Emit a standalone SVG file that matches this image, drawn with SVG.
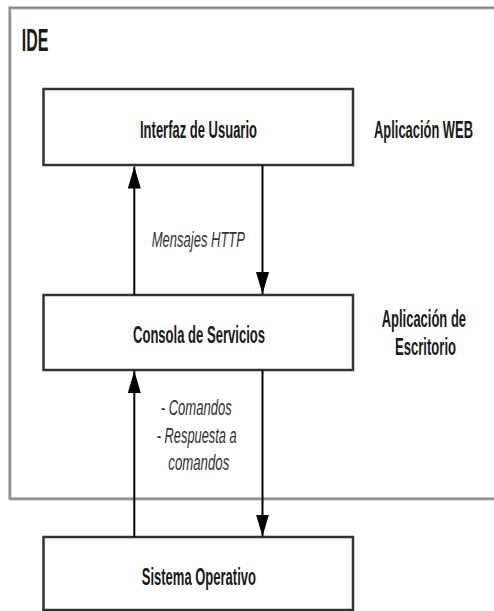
<svg xmlns="http://www.w3.org/2000/svg" width="494" height="611" viewBox="0 0 494 611">
<style>
.node{fill:#ffffff;stroke:#333333;stroke-width:2.5}
.b{font-family:"Liberation Sans",Arial,sans-serif;font-weight:bold;fill:#1a1a1a}
.i{font-family:"Liberation Sans",Arial,sans-serif;font-style:italic;fill:#333333}
.conn{stroke:#000000;stroke-width:2;fill:none}
</style>
<defs>
<marker id="ah" markerUnits="userSpaceOnUse" markerWidth="23" markerHeight="14" refX="22" refY="6.5" orient="auto">
<path d="M0,0 L22,6.5 L0,13 Z" fill="#000000"/>
</marker>
</defs>
<rect width="494" height="611" fill="#ffffff"/>
<g id="ide">
<rect x="10.5" y="8.5" width="500" height="491" fill="none" stroke="#b0b0b0" stroke-width="2"/>
<rect x="9.5" y="7.5" width="500" height="491" fill="none" stroke="#888888" stroke-width="2"/>
<text class="b" transform="translate(21.7 50.5) scale(0.55 1)" font-size="32" textLength="48.4" lengthAdjust="spacingAndGlyphs">IDE</text>
</g>
<g id="interfaz">
<rect class="node" x="43.5" y="89" width="309.5" height="76"/>
<text class="b" transform="translate(140 138) scale(0.55 1)" font-size="24.5" textLength="212.7" lengthAdjust="spacingAndGlyphs">Interfaz de Usuario</text>
</g>
<g id="label-web">
<text class="b" transform="translate(374 137.7) scale(0.55 1)" font-size="24.5" textLength="180" lengthAdjust="spacingAndGlyphs">Aplicación WEB</text>
</g>
<g id="consola">
<rect class="node" x="43.5" y="295" width="309.5" height="75"/>
<text class="b" transform="translate(133 343) scale(0.55 1)" font-size="24.5" textLength="240" lengthAdjust="spacingAndGlyphs">Consola de Servicios</text>
</g>
<g id="label-escritorio">
<text class="b" transform="translate(381.7 327) scale(0.55 1)" font-size="24.5" textLength="153.3" lengthAdjust="spacingAndGlyphs">Aplicación de</text>
<text class="b" transform="translate(395 355) scale(0.55 1)" font-size="24.5" textLength="110.9" lengthAdjust="spacingAndGlyphs">Escritorio</text>
</g>
<g id="sistema">
<rect class="node" x="43.5" y="537" width="309.5" height="73"/>
<text class="b" transform="translate(141.7 585) scale(0.55 1)" font-size="24.5" textLength="207.8" lengthAdjust="spacingAndGlyphs">Sistema Operativo</text>
</g>
<g id="connectors">
<line class="conn" x1="134.3" y1="295" x2="134.3" y2="166.5" marker-end="url(#ah)"/>
<line class="conn" x1="262.5" y1="165" x2="262.5" y2="294" marker-end="url(#ah)"/>
<line class="conn" x1="134.3" y1="537" x2="134.3" y2="371" marker-end="url(#ah)"/>
<line class="conn" x1="262.5" y1="370" x2="262.5" y2="536.5" marker-end="url(#ah)"/>
<text class="i" transform="translate(151.7 246.7) scale(0.55 1)" font-size="22" textLength="169.6" lengthAdjust="spacingAndGlyphs">Mensajes HTTP</text>
<text class="i" transform="translate(160.7 415) scale(0.55 1)" font-size="21.5" textLength="129.1" lengthAdjust="spacingAndGlyphs">- Comandos</text>
<text class="i" transform="translate(156.7 442.5) scale(0.55 1)" font-size="21.5" textLength="145.5" lengthAdjust="spacingAndGlyphs">- Respuesta a</text>
<text class="i" transform="translate(168.3 470) scale(0.55 1)" font-size="21.5" textLength="110.9" lengthAdjust="spacingAndGlyphs">comandos</text>
</g>
</svg>
